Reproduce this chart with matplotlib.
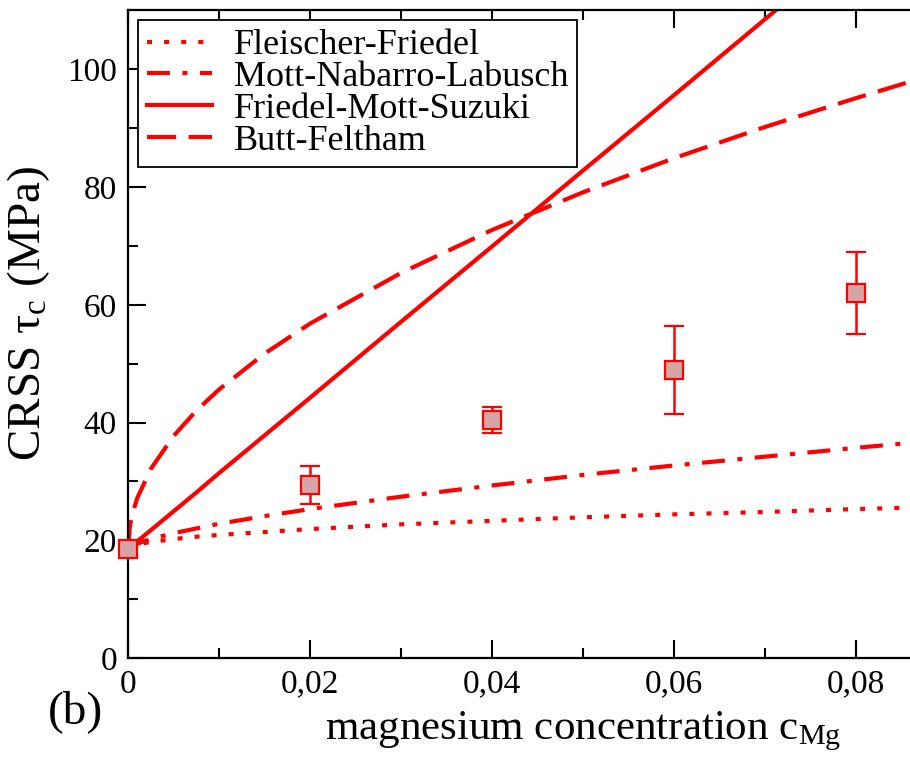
import matplotlib
matplotlib.use('Agg')
import matplotlib.pyplot as plt
from matplotlib.ticker import MultipleLocator, FuncFormatter

plt.rcParams['font.family'] = ['Liberation Serif', 'DejaVu Serif']
plt.rcParams['mathtext.fontset'] = 'custom'
plt.rcParams['mathtext.rm'] = 'Liberation Serif'
plt.rcParams['mathtext.it'] = 'Liberation Serif:italic'

# measured CRSS
c_mg = [0.0, 0.02, 0.04, 0.06, 0.08]
crss = [18.5, 29.4, 40.4, 48.9, 62.0]
crss_err = [0.0, 3.2, 2.2, 7.5, 7.0]

# model curves
curve_c = [0.0, 0.0002, 0.0005, 0.001, 0.0025, 0.005, 0.0075, 0.01, 0.015, 0.02,
           0.03, 0.04, 0.05, 0.06, 0.07, 0.08, 0.09]
fleischer_friedel = [18.5, 18.8, 19.0, 19.3, 19.7, 20.2, 20.6, 20.9, 21.4, 21.9,
                     22.7, 23.3, 23.9, 24.4, 24.8, 25.3, 25.7]
mott_nabarro_labusch = [18.5, 18.8, 19.1, 19.4, 20.2, 21.2, 22.0, 22.8, 24.1, 25.3,
                        27.4, 29.3, 31.1, 32.7, 34.2, 35.7, 37.1]
friedel_mott_suzuki = [18.5, 18.8, 19.1, 19.8, 21.7, 24.9, 28.1, 31.4, 37.8, 44.2,
                       57.1, 69.9, 82.8, 95.6, 108.5, 121.3, 134.2]
butt_feltham = [18.5, 22.3, 24.6, 27.1, 32.1, 37.7, 42.0, 45.6, 51.7, 56.8,
                65.4, 72.7, 79.1, 84.9, 90.2, 95.1, 99.8]

xticks = [0, 0.02, 0.04, 0.06, 0.08]
yticks = [0, 20, 40, 60, 80, 100]

red = '#ff0000'
lw = 3.0

fig = plt.figure(figsize=(9.1, 7.59), dpi=100)
ax = fig.add_axes([128 / 910, 1 - 658 / 759, 910 / 910, 647.6 / 759])

ax.plot(curve_c, fleischer_friedel, color=red, lw=lw, ls=(0, (1.2, 2.9)),
        label='Fleischer-Friedel')
ax.plot(curve_c, mott_nabarro_labusch, color=red, lw=lw, ls=(0, (5.5, 3, 1.2, 3)),
        label='Mott-Nabarro-Labusch')
ax.plot(curve_c, friedel_mott_suzuki, color=red, lw=lw, ls='-',
        label='Friedel-Mott-Suzuki')
ax.plot(curve_c, butt_feltham, color=red, lw=lw, ls=(0, (7, 3)),
        label='Butt-Feltham')

ax.errorbar(c_mg, crss, yerr=crss_err, fmt='s', color=red, ms=13.5,
            mfc='#d6a6a6', mec=red, mew=1.6, elinewidth=1.8, capsize=7,
            capthick=1.8, zorder=5, clip_on=False)

ax.set_xlim(0, 0.1)
ax.set_ylim(0, 110)
ax.set_xticks(xticks)
ax.set_yticks(yticks)
ax.xaxis.set_minor_locator(MultipleLocator(0.01))
ax.yaxis.set_minor_locator(MultipleLocator(10))
ax.xaxis.set_major_formatter(FuncFormatter(
    lambda v, p: '0' if v == 0 else ('%g' % v).replace('.', ',')))
ax.tick_params(which='both', direction='in', top=True, right=True,
               width=1.5, labelsize=24, pad=8)
ax.tick_params(which='major', length=13)
ax.tick_params(which='minor', length=7)
for sp in ax.spines.values():
    sp.set_linewidth(1.6)

ax.set_xlabel('magnesium concentration c$_{\\mathrm{Mg}}$', fontsize=31, labelpad=7)
ax.set_ylabel('CRSS \u03c4$_{\\mathrm{c}}$ (MPa)', fontsize=34)
ax.yaxis.set_label_coords((52 - 128) / 910, (658 - 313) / 647.6)

leg = ax.legend(loc='upper left', bbox_to_anchor=(10 / 910, (658 - 20) / 647.6),
                borderaxespad=0, fontsize=26, handlelength=1.8, handletextpad=0.6,
                labelspacing=-0.04, borderpad=0.25, fancybox=False,
                edgecolor='black', framealpha=1)
leg.get_frame().set_linewidth(1.3)
leg.set_zorder(10)

fig.text(75 / 910, 1 - 712 / 759, '(b)', fontsize=34, ha='center', va='center')

fig.savefig('out.png', dpi=100)
